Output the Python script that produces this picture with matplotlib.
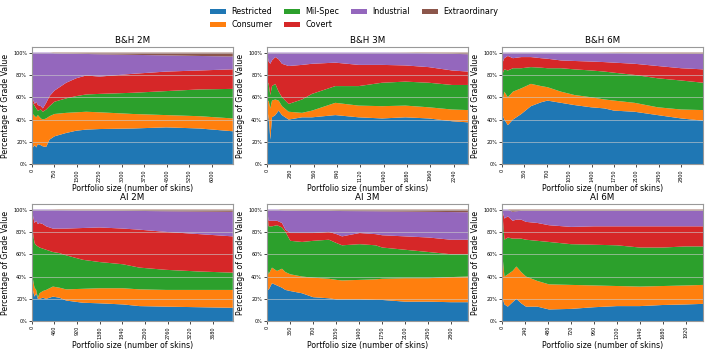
import matplotlib
matplotlib.use('Agg')
import matplotlib.pyplot as plt
from matplotlib.ticker import MultipleLocator, PercentFormatter

grades = ['Restricted', 'Consumer', 'Mil-Spec', 'Covert', 'Industrial', 'Extraordinary']
colors = ['#1f77b4', '#ff7f0e', '#2ca02c', '#d62728', '#9467bd', '#8c564b']

# ---- B&H 2M ----
bh2_x = [0, 33, 100, 144, 200, 300, 367, 478, 589, 756, 1144, 1478, 1811, 2256, 3367, 4478, 5589, 6700]
bh2_restricted = [18, 15, 17, 15, 18, 17, 16, 15.5, 22, 25, 28, 30, 31, 31.5, 32, 33, 32, 29.5]
bh2_consumer = [42, 30, 26, 27, 26, 24, 24, 25.5, 21, 20, 18, 16.5, 16, 15, 13, 11, 11, 11.5]
bh2_milspec = [2, 10, 9, 8, 4, 8, 7, 8, 9, 11, 13, 14.5, 15.5, 16.5, 19, 21.5, 24, 26.5]
bh2_covert = [2, 3, 2, 6, 5, 3, 3, 6, 9, 10, 14, 16, 17, 15.5, 17, 17.5, 17, 17.5]
bh2_industrial = [36, 42, 46, 44, 47, 48, 50, 45, 39, 33.5, 26.2, 22, 19.3, 20, 17, 14.5, 13, 11.5]
bh2_extra = [0, 0, 0, 0, 0, 0, 0, 0, 0, 0.5, 0.8, 1, 1.2, 1.5, 2, 2.5, 3, 3.5]

# ---- B&H 3M ----
bh3_x = [0, 20, 40, 60, 100, 140, 180, 260, 420, 540, 820, 1100, 1380, 1660, 1940, 2220, 2410]
bh3_restricted = [25, 45, 22, 42, 44, 48, 44, 40, 42, 42, 44, 42, 41, 42, 41, 38.5, 37.5]
bh3_consumer = [30, 12, 28, 15, 14, 9, 8, 7, 4, 6, 11, 10.5, 11, 10.5, 10, 10.5, 11]
bh3_milspec = [20, 15, 12, 13, 14, 8, 8, 7, 12, 15, 15, 17.5, 21, 21.5, 22, 22, 22.5]
bh3_covert = [25, 20, 28, 23, 24, 29, 30, 34, 31, 27, 21, 19, 16, 14.5, 14, 13, 12]
bh3_industrial = [0, 8, 10, 7, 4, 6, 10, 12, 11, 10, 9, 11, 11, 11.3, 12.5, 15, 15.5]
bh3_extra = [0, 0, 0, 0, 0, 0, 0, 0, 0, 0, 0, 0, 0, 0.2, 0.5, 1, 1.5]

# ---- B&H 6M ----
bh6_x = [0, 35, 90, 170, 300, 450, 610, 710, 920, 1130, 1390, 1600, 1750, 2070, 2430, 2800, 3140]
bh6_restricted = [45, 40, 35, 40, 45, 52, 55.5, 57, 55, 53, 51, 50, 48, 47, 44, 41, 39]
bh6_consumer = [10, 25, 25, 25, 23, 20, 14.5, 12, 10, 9, 9, 8, 9, 8, 7, 8, 9.5]
bh6_milspec = [25, 20, 24, 21, 18, 15, 16.5, 17, 21, 23, 24, 25, 25, 25, 26, 26, 24.5]
bh6_covert = [10, 10, 13, 9, 10, 9, 8.5, 8.5, 7, 7.5, 8, 8.5, 9, 10, 11, 11, 12]
bh6_industrial = [10, 5, 3, 5, 4, 4, 5, 5.5, 7, 7.5, 8, 8.3, 8.7, 9.5, 11.3, 13, 14]
bh6_extra = [0, 0, 0, 0, 0, 0, 0, 0, 0, 0, 0, 0.2, 0.3, 0.5, 0.7, 1, 1]

# ---- AI 2M ----
ai2_x = [0, 20, 54, 88, 122, 156, 224, 291, 427, 562, 698, 1037, 1375, 1850, 2188, 2730, 3408, 4085]
ai2_restricted = [33, 28, 22, 25, 20, 20, 21, 20, 22, 21, 18.5, 16.5, 16, 15, 13.5, 13, 12.5, 12]
ai2_consumer = [7, 10, 8, 3, 1, 5, 6, 8, 9, 9, 10, 12.5, 13.5, 14.5, 15, 15, 15.5, 16]
ai2_milspec = [60, 42, 40, 40, 46, 41, 38, 36, 31, 31, 30.5, 26, 23.5, 21.5, 19.5, 18, 16.5, 15.5]
ai2_covert = [0, 15, 18, 22, 20, 22, 22, 21, 21, 22, 24, 28.5, 31, 32, 34, 34, 33.5, 32.5]
ai2_industrial = [0, 5, 12, 10, 13, 12, 13, 15, 16.8, 16.6, 16.5, 15.8, 15.2, 16, 16.8, 18.5, 20.2, 22]
ai2_extra = [0, 0, 0, 0, 0, 0, 0, 0, 0.2, 0.4, 0.5, 0.7, 0.8, 1, 1.2, 1.5, 1.8, 2]

# ---- AI 3M ----
ai3_x = [0, 25, 76, 152, 228, 280, 355, 533, 700, 940, 1056, 1140, 1406, 1650, 1750, 2097, 2450, 2790, 3050]
ai3_restricted = [30, 28, 34, 32, 30, 28, 27, 25, 21.5, 20.5, 19.5, 19.5, 19.5, 19, 19, 17.5, 17.5, 17, 17]
ai3_consumer = [20, 14, 14, 13, 17, 16, 15, 15, 17.5, 17.5, 17.5, 17, 17.5, 18.5, 19, 21, 21, 22.5, 23]
ai3_milspec = [50, 43, 37, 41, 37, 36, 30, 31, 33, 35, 33, 31.5, 32, 30.5, 28, 25.5, 23.5, 20.5, 20]
ai3_covert = [0, 5, 5, 4, 4, 2, 7, 8, 7, 7, 8, 8, 10, 10, 11, 12, 13, 13, 13]
ai3_industrial = [0, 10, 10, 10, 11.5, 17.3, 20.2, 20, 20, 19, 20.8, 22.7, 19.6, 20.5, 21.4, 22.2, 23, 24.8, 24.6]
ai3_extra = [0, 0, 0, 0, 0.5, 0.7, 0.8, 1, 1, 1, 1.2, 1.3, 1.4, 1.5, 1.6, 1.8, 2, 2.2, 2.4]

# ---- AI 6M ----
ai6_x = [0, 25, 60, 110, 150, 200, 250, 370, 490, 720, 960, 1200, 1440, 1680, 1920, 2100]
ai6_restricted = [22, 15, 13, 17, 20, 16, 13, 13, 10.5, 11, 12.5, 13.5, 13.5, 14.5, 15, 15.5]
ai6_consumer = [40, 25, 29, 28, 29, 28, 27, 23, 22.5, 21.5, 19.5, 18, 17.5, 17, 17, 17]
ai6_milspec = [38, 33, 33, 29, 25, 30, 33, 36, 38, 36.5, 36.5, 36.5, 35, 34.5, 35, 34.5]
ai6_covert = [0, 19, 19, 16, 17, 17, 16, 16, 15, 15.5, 16.5, 17, 19, 19, 18, 18]
ai6_industrial = [0, 8, 6, 8, 7.5, 8, 10, 11, 13, 14.5, 14, 14, 14, 14, 14, 14]
ai6_extra = [0, 0, 0, 2, 1.5, 1, 1, 1, 1, 1, 1, 1, 1, 1, 1, 1]

panels = [
    ('B&H 2M', bh2_x, [bh2_restricted, bh2_consumer, bh2_milspec, bh2_covert, bh2_industrial, bh2_extra], 750),
    ('B&H 3M', bh3_x, [bh3_restricted, bh3_consumer, bh3_milspec, bh3_covert, bh3_industrial, bh3_extra], 280),
    ('B&H 6M', bh6_x, [bh6_restricted, bh6_consumer, bh6_milspec, bh6_covert, bh6_industrial, bh6_extra], 350),
    ('AI 2M', ai2_x, [ai2_restricted, ai2_consumer, ai2_milspec, ai2_covert, ai2_industrial, ai2_extra], 460),
    ('AI 3M', ai3_x, [ai3_restricted, ai3_consumer, ai3_milspec, ai3_covert, ai3_industrial, ai3_extra], 350),
    ('AI 6M', ai6_x, [ai6_restricted, ai6_consumer, ai6_milspec, ai6_covert, ai6_industrial, ai6_extra], 240),
]

fig, axes = plt.subplots(2, 3, figsize=(7.08, 3.51), dpi=100)
fig.subplots_adjust(left=0.045, right=0.993, top=0.866, bottom=0.085, wspace=0.17, hspace=0.34)

for ax, (title, x, series, step) in zip(axes.flat, panels):
    polys = ax.stackplot(x, *series, colors=colors, labels=grades, linewidth=0)
    ax.set_xlim(0, x[-1])
    ax.set_ylim(0, 105)
    ax.xaxis.set_major_locator(MultipleLocator(step))
    ax.yaxis.set_major_locator(MultipleLocator(20))
    ax.yaxis.set_major_formatter(PercentFormatter(100, decimals=0))
    ax.yaxis.grid(True, color='#cccccc', alpha=0.7, linewidth=0.6)
    ax.tick_params(axis='both', labelsize=3.5, length=2, width=0.5, pad=1.5)
    ax.tick_params(axis='x', labelrotation=90)
    for spine in ax.spines.values():
        spine.set_color('#999999')
        spine.set_linewidth(0.8)
    ax.set_title(title, fontsize=6.3, pad=3)
    ax.set_ylabel('Percentage of Grade Value', fontsize=5.6, labelpad=2)
    ax.set_xlabel('Portfolio size (number of skins)', fontsize=5.6, labelpad=2)

handles, labels = axes[0, 0].get_legend_handles_labels()
fig.legend(handles, labels, loc='upper center', bbox_to_anchor=(0.5, 1.0), ncol=4,
           frameon=False, fontsize=5.8, handlelength=2, columnspacing=1.5, handletextpad=0.6)

plt.savefig('out.png', dpi=100)
